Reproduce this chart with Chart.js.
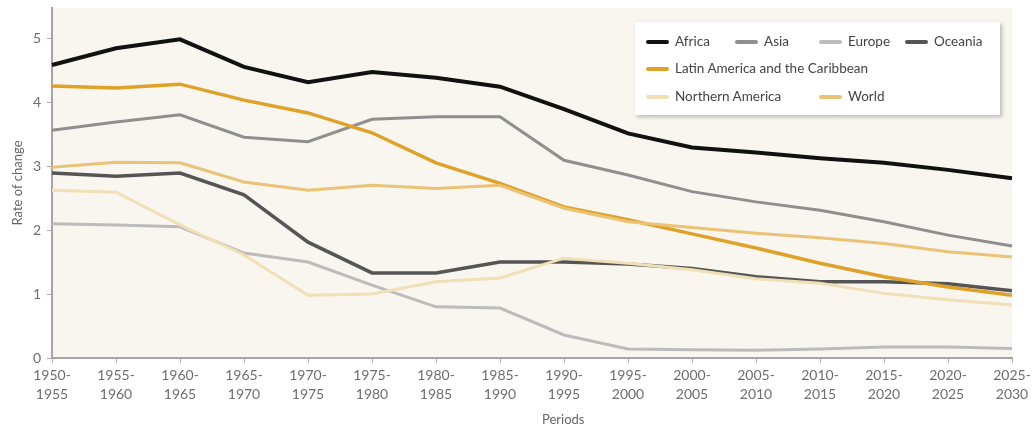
<!DOCTYPE html>
<html>
<head>
<meta charset="utf-8">
<script src="https://cdn.jsdelivr.net/npm/chart.js@4"></script>
<style>
  html, body { margin: 0; padding: 0; background: #fff; }
  #wrap { position: relative; width: 1035px; height: 427px; font-family: Lato, "Open Sans", sans-serif; }
  #chart { position: absolute; left: 0; top: 0; }
  #legend {
    position: absolute; left: 635px; top: 22px; width: 365px; height: 93px;
    background: #fff; box-shadow: 2px 2px 4px rgba(0,0,0,0.25); box-sizing: border-box;
  }
  .item { position: absolute; font-size: 13.5px; color: #444; line-height: 16px; white-space: nowrap; }
  .item i { display: inline-block; width: 23px; height: 4px; border-radius: 2px; vertical-align: middle; margin-right: 6px; position: relative; top: -1px; }
  #xtitle { position: absolute; left: 542px; top: 411px; font-size: 13px; color: #666; }
</style>
</head>
<body>
<div id="wrap">
  <canvas id="chart" width="1035" height="427"></canvas>
  <div id="legend"></div>
  <div id="xtitle">Periods</div>
</div>
<script>
/* ---------- DATA ---------- */
const periods = [
  ["1950-", "1955"], ["1955-", "1960"], ["1960-", "1965"], ["1965-", "1970"],
  ["1970-", "1975"], ["1975-", "1980"], ["1980-", "1985"], ["1985-", "1990"],
  ["1990-", "1995"], ["1995-", "2000"], ["2000-", "2005"], ["2005-", "2010"],
  ["2010-", "2015"], ["2015-", "2020"], ["2020-", "2025"], ["2025-", "2030"]
];

const africa       = [4.58, 4.84, 4.98, 4.55, 4.31, 4.47, 4.38, 4.24, 3.89, 3.51, 3.29, 3.21, 3.12, 3.05, 2.94, 2.81];
const asia         = [3.56, 3.69, 3.80, 3.45, 3.38, 3.73, 3.77, 3.77, 3.09, 2.86, 2.60, 2.44, 2.31, 2.13, 1.92, 1.75];
const europe       = [2.10, 2.08, 2.05, 1.64, 1.50, 1.14, 0.80, 0.78, 0.36, 0.14, 0.13, 0.12, 0.14, 0.17, 0.17, 0.15];
const oceania      = [2.89, 2.84, 2.89, 2.55, 1.81, 1.33, 1.33, 1.50, 1.50, 1.47, 1.40, 1.27, 1.19, 1.19, 1.16, 1.05];
const latinAmerica = [4.25, 4.22, 4.28, 4.03, 3.83, 3.52, 3.05, 2.73, 2.36, 2.16, 1.94, 1.72, 1.48, 1.27, 1.11, 0.98];
const northAmerica = [2.62, 2.59, 2.08, 1.61, 0.98, 1.00, 1.19, 1.25, 1.56, 1.48, 1.38, 1.24, 1.17, 1.01, 0.91, 0.83];
const world        = [2.98, 3.06, 3.05, 2.75, 2.62, 2.70, 2.65, 2.70, 2.34, 2.13, 2.04, 1.95, 1.88, 1.79, 1.66, 1.58];

const yTicks = [0, 1, 2, 3, 4, 5];

/* ---------- SERIES ---------- */
// draw order: pale lines first, dark on top
const series = [
  { label: "Northern America", data: northAmerica, color: "#f1dfb5", width: 3 },
  { label: "Europe", data: europe, color: "#bcbcbc", width: 3 },
  { label: "World", data: world, color: "#ebc377", width: 3 },
  { label: "Latin America and the Caribbean", data: latinAmerica, color: "#dfa128", width: 3.5 },
  { label: "Asia", data: asia, color: "#8f8f8f", width: 3 },
  { label: "Oceania", data: oceania, color: "#555555", width: 3.5 },
  { label: "Africa", data: africa, color: "#111111", width: 4 }
];

/* ---------- LEGEND (html, custom layout) ---------- */
const legendSlots = {
  "Africa": [11, 11], "Asia": [100, 11], "Europe": [184, 11], "Oceania": [270, 11],
  "Latin America and the Caribbean": [11, 38],
  "Northern America": [11, 66], "World": [184, 66]
};
const legendBox = document.getElementById("legend");
series.forEach(s => {
  const pos = legendSlots[s.label];
  const el = document.createElement("div");
  el.className = "item";
  el.style.left = pos[0] + "px";
  el.style.top = pos[1] + "px";
  el.innerHTML = `<i style="background:${s.color}"></i>${s.label}`;
  legendBox.appendChild(el);
});

/* ---------- CHART ---------- */
const plotBg = {
  id: "plotBg",
  beforeDraw(chart) {
    const { ctx, chartArea: a } = chart;
    ctx.save();
    ctx.fillStyle = "#f8f6ef";
    ctx.fillRect(a.left, a.top, a.right - a.left, a.bottom - a.top);
    ctx.restore();
  }
};

new Chart(document.getElementById("chart"), {
  type: "line",
  data: {
    labels: periods,
    datasets: series.map(s => ({
      label: s.label,
      data: s.data,
      borderColor: s.color,
      backgroundColor: s.color,
      borderWidth: s.width,
      pointRadius: 0,
      tension: 0,
      fill: false
    }))
  },
  options: {
    responsive: false,
    animation: false,
    devicePixelRatio: 1,
    layout: { padding: { top: 8, right: 23, left: 0, bottom: 0 } },
    plugins: {
      legend: { display: false },
      tooltip: { enabled: false }
    },
    scales: {
      x: {
        offset: false,
        grid: { drawOnChartArea: false, drawTicks: true, tickLength: 5, color: "#aaaaaa" },
        border: { color: "#a5a5a5", width: 2 },
        ticks: {
          maxRotation: 0, autoSkip: false, padding: 3,
          color: "#6e6e6e", font: { family: "Lato", size: 14, lineHeight: 1.35 }
        },
        afterFit(scale) { scale.height = 69; }
      },
      y: {
        min: 0, max: 5.47,
        grid: { drawOnChartArea: false, drawTicks: true, tickLength: 5, color: "#aaaaaa" },
        border: { color: "#a5a5a5", width: 2 },
        ticks: { stepSize: 1, padding: 6, color: "#6e6e6e", font: { family: "Lato", size: 14 } },
        afterBuildTicks(scale) { scale.ticks = yTicks.map(v => ({ value: v })); },
        title: {
          display: true, text: "Rate of change", color: "#666",
          font: { family: "Lato", size: 13 }, padding: { top: 10, bottom: 0 }
        },
        afterFit(scale) {
          scale.width = 52;
          scale.paddingTop = 0;
          scale.paddingBottom = 0;
        }
      }
    }
  },
  plugins: [plotBg]
});
</script>
</body>
</html>
